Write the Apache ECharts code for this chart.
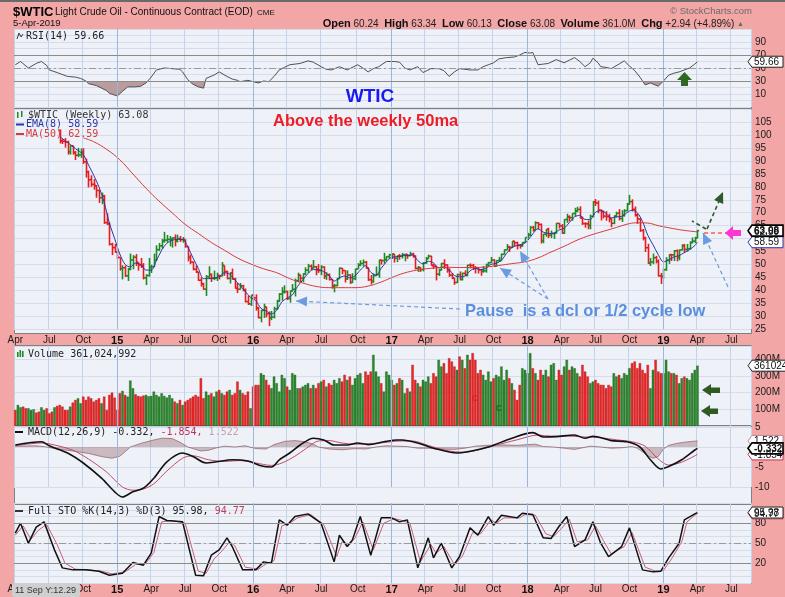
<!DOCTYPE html>
<html>
<head>
<meta charset="utf-8">
<title>$WTIC Light Crude Oil - Weekly</title>
<script src="https://cdn.jsdelivr.net/npm/echarts@6/dist/echarts.min.js"></script>
<style>
  html, body { margin: 0; padding: 0; background: #f2a6a6; }
  #chart { width: 785px; height: 597px; }
</style>
</head>
<body>
<div id="chart"></div>
<script>
// weekly categories start Fri 4-Apr-2014; price bars are shown from 1-Aug-2014
const firstWeek = "2014-04-04";
const weekCount = 282;
const firstBar = 17;

// weekly closes from 4-Apr-2014 (index 0) to 5-Apr-2019 (index 261)
const closes = [
  101.14,103.74,104.30,100.60,99.76,99.99,102.02,104.35,102.71,102.66,106.91,107.26,105.74,104.06,100.83,103.13,102.09,
  97.88,97.65,97.35,93.65,95.96,93.29,92.27,92.41,93.54,89.74,85.82,82.75,81.01,80.54,78.65,75.82,76.51,66.15,65.84,57.81,56.52,54.73,
  52.69,48.36,48.69,45.59,48.24,51.69,52.78,50.81,49.76,49.61,44.84,45.72,48.87,49.14,51.64,55.74,57.15,59.15,59.39,59.69,
  59.72,60.30,59.13,59.96,59.61,59.63,56.93,52.74,50.89,48.14,47.12,43.87,42.50,40.45,45.22,46.05,44.63,44.68,45.70,45.54,
  49.63,47.26,44.60,46.59,44.29,40.74,40.39,41.71,39.97,35.62,34.73,38.10,37.04,
  33.16,29.42,32.19,33.62,30.89,29.44,29.64,32.78,35.92,38.50,39.44,39.46,36.79,39.72,40.36,43.73,45.92,44.66,46.21,47.75,
  49.33,48.62,49.07,47.98,47.64,48.99,45.41,45.95,44.19,41.60,41.80,44.49,48.52,47.64,44.44,45.88,43.03,44.48,48.24,49.81,
  50.35,50.85,48.70,44.07,43.41,45.69,46.06,51.68,51.50,51.90,53.02,53.72,
  53.99,52.37,53.22,53.17,53.83,53.86,53.40,53.99,53.33,48.49,48.78,47.97,50.60,52.24,53.18,49.62,49.33,46.22,47.84,50.33,
  49.80,47.66,45.83,44.74,43.01,46.04,44.23,46.54,45.77,49.71,49.58,48.82,48.51,47.87,47.29,47.48,49.89,50.66,51.67,49.29,
  51.45,51.47,53.90,55.64,56.74,56.55,58.95,58.36,57.36,57.30,58.47,60.42,
  61.44,64.30,63.37,66.14,65.45,59.20,61.68,63.55,61.25,62.04,62.34,65.88,64.94,62.06,67.39,68.38,68.10,69.72,70.70,71.28,
  67.88,65.81,65.74,65.06,68.58,74.15,73.80,71.01,70.46,68.69,68.49,67.63,65.91,68.72,69.80,67.75,68.99,70.78,73.25,74.34,
  71.34,69.12,67.59,63.14,60.19,56.46,50.42,50.93,52.61,51.20,45.59,45.33,
  47.96,51.59,53.80,53.69,55.26,52.72,55.59,57.26,55.80,56.07,58.52,59.04,60.14,63.08
];

// opens / highs / lows from index 17
const opens = [
  101.9,97.9,97.6,97.3,93.6,95.9,93.3,92.3,92.4,93.5,89.7,85.8,82.8,81.0,80.5,78.6,75.8,76.5,66.2,65.8,57.8,56.5,
  54.7,52.7,48.4,48.7,45.6,48.2,51.7,52.8,50.8,49.8,49.6,44.8,45.7,48.9,49.1,51.6,55.7,57.2,59.2,59.4,
  59.7,59.7,60.3,59.1,60.0,59.6,59.6,56.9,52.7,50.9,48.1,47.1,43.9,42.5,40.4,45.2,46.1,44.6,44.7,45.7,
  45.5,49.6,47.3,44.6,46.6,44.3,40.7,40.4,41.7,40.0,35.6,34.7,38.1,
  37.0,33.2,29.4,32.2,33.6,30.9,29.4,29.6,32.8,35.9,38.5,39.4,39.5,36.8,39.7,40.4,43.7,45.9,44.7,46.2,
  47.8,49.3,48.6,49.1,48.0,47.6,49.0,45.4,46.0,44.2,41.6,41.8,44.5,48.5,47.6,44.4,45.9,43.0,44.5,48.2,
  49.8,50.4,50.9,48.7,44.1,43.4,45.7,46.1,51.7,51.5,51.9,53.0,
  53.7,54.0,52.4,53.2,53.2,53.8,53.9,53.4,54.0,53.3,48.5,48.8,48.0,50.6,52.2,53.2,49.6,49.3,46.2,47.8,
  50.3,49.8,47.7,45.8,44.7,43.0,46.0,44.2,46.5,45.8,49.7,49.6,48.8,48.5,47.9,47.3,47.5,49.9,50.7,51.7,
  49.3,51.5,51.5,53.9,55.6,56.7,56.6,59.0,58.4,57.4,57.3,58.5,
  60.4,61.4,64.3,63.4,66.1,65.5,59.2,61.7,63.6,61.3,62.0,62.3,65.9,64.9,62.1,67.4,68.4,68.1,69.7,70.7,
  71.3,67.9,65.8,65.7,65.1,68.6,74.2,73.8,71.0,70.5,68.7,68.5,67.6,65.9,68.7,69.8,67.8,69.0,70.8,73.3,
  74.3,71.3,69.1,67.6,63.1,60.2,56.5,50.4,50.9,52.6,51.2,45.6,
  45.3,48.0,51.6,53.8,53.7,55.3,52.7,55.6,57.3,55.8,56.1,58.5,59.0,60.24
];
const highs = [
  102.2,98.5,98.9,97.9,96.1,95.9,93.9,95.1,94.9,95.0,90.9,86.3,84.5,83.0,80.7,78.9,77.8,76.9,69.8,66.2,58.4,57.9,
  55.1,52.7,49.7,49.5,48.6,54.2,53.6,54.0,50.8,52.5,50.5,46.2,52.5,49.9,54.2,57.4,58.3,59.9,62.6,61.4,
  61.0,60.4,61.6,61.5,61.0,60.6,59.7,56.9,53.8,51.1,49.6,47.1,45.0,42.9,45.9,49.3,46.5,47.6,46.8,46.0,
  50.9,49.6,47.5,47.0,48.4,44.8,42.8,42.8,42.1,40.7,37.9,38.1,38.4,
  38.4,33.6,32.4,34.8,33.6,31.8,32.0,33.6,36.3,38.9,41.2,41.9,39.8,39.9,42.4,44.5,46.8,46.0,46.6,48.9,
  50.2,50.0,51.7,49.4,50.1,49.7,49.2,47.0,46.5,44.3,42.5,44.8,48.8,48.6,47.7,47.7,46.2,46.6,48.3,50.5,
  51.6,51.9,51.3,48.8,45.9,46.5,49.2,51.8,51.8,54.5,53.2,54.1,
  54.3,54.0,53.5,54.0,54.4,54.0,54.0,54.9,54.5,53.5,49.4,49.0,50.9,52.9,53.8,53.3,50.3,49.4,48.2,50.6,
  52.0,50.1,48.5,46.7,44.8,46.4,47.3,46.8,47.7,49.8,50.4,50.2,49.3,48.7,48.2,49.4,50.3,51.0,52.9,52.0,
  51.6,52.9,54.2,55.8,57.9,57.2,59.0,59.1,58.8,57.9,58.6,60.5,
  62.2,64.8,64.9,66.7,66.4,65.8,61.8,63.7,64.2,63.1,62.5,66.0,66.0,65.6,67.5,69.6,69.0,69.8,71.9,72.3,
  72.5,68.5,66.3,67.0,69.3,74.5,75.3,74.7,71.2,70.8,70.6,69.6,67.8,69.0,70.4,71.4,71.0,71.4,73.8,76.9,
  75.2,72.4,69.6,67.8,63.7,60.7,58.0,52.5,54.2,53.3,51.9,46.7,
  48.4,52.8,53.9,54.0,55.6,55.8,55.8,57.8,57.9,57.9,58.9,60.4,60.7,63.34
];
const lows = [
  96.8,96.6,95.2,92.5,92.5,92.5,90.4,91.5,91.2,88.9,83.6,79.8,80.0,78.9,75.8,73.8,73.3,65.7,65.2,57.3,53.6,54.5,
  52.0,47.6,44.2,45.2,43.6,47.7,48.1,49.4,47.6,48.6,44.2,42.0,45.3,46.7,49.1,51.3,55.2,56.1,58.4,58.5,
  57.0,56.5,57.0,58.5,58.7,58.4,56.5,51.2,50.1,47.7,46.7,43.6,41.4,40.2,37.8,44.3,43.2,43.9,43.6,44.2,
  45.5,45.6,44.2,42.6,44.1,40.6,38.9,40.3,39.6,35.3,34.3,33.9,36.1,
  32.1,29.1,27.6,29.3,29.5,26.1,28.4,29.1,32.5,35.4,36.0,38.7,36.2,35.2,39.5,37.6,43.1,43.0,43.1,46.0,
  46.7,47.8,48.4,45.8,46.7,45.8,44.4,44.0,43.8,40.6,39.2,41.5,44.4,46.2,43.0,44.0,42.5,42.8,43.9,48.2,
  49.3,49.2,48.3,43.6,42.2,42.9,45.6,44.8,49.9,50.3,51.3,52.1,
  52.1,50.7,50.9,51.8,52.3,51.2,52.2,53.2,52.6,48.1,47.1,47.1,47.3,50.2,52.1,49.5,48.2,43.8,45.5,47.7,
  48.2,46.8,45.2,44.3,42.1,42.8,43.8,43.8,45.4,45.4,48.4,47.8,46.5,46.5,45.6,46.8,46.8,49.4,50.6,49.3,
  49.1,51.0,51.5,53.8,55.6,54.8,56.4,56.8,55.8,56.1,56.8,58.4,
  60.1,61.0,62.7,63.2,63.6,58.1,58.2,60.7,60.2,60.2,59.9,61.9,63.9,61.8,61.8,66.1,66.6,66.9,68.6,70.2,
  67.8,65.3,64.2,63.6,63.6,68.3,72.6,69.8,67.0,67.8,66.9,66.3,64.4,65.6,68.2,67.0,66.4,68.5,70.7,73.1,
  70.5,68.5,65.7,62.6,59.3,54.8,50.2,49.4,50.1,50.4,45.3,42.4,
  44.4,47.5,50.2,51.3,51.3,51.2,51.6,55.4,54.5,55.0,55.8,58.1,58.2,60.13
];

// weekly volume, millions
const volumeM = [
  96,126,112,116,106,106,96,100,80,86, 112,96,106,76,86,112,120,126,116,96,
  96,116,140,156,166,136,176,156,176,166, 146,156,166,136,176,96,186,200,170,96,
  196,210,186,176,272,226,190,180,176,182, 186,178,180,206,186,176,196,180,170,186,
  166,146,136,156,126,146,156,166,176,186, 176,286,166,206,186,196,176,206,216,196,
  186,206,216,186,196,266,216,196,186,206, 106,236,246,246,316,306,276,246,226,296,
  256,206,306,286,236,216,316,306,226,226, 236,246,256,226,246,226,256,266,276,236,
  256,246,276,256,286,266,306,276,296,246, 286,306,316,256,326,306,326,426,326,296,
  256,206,326,306,276,246,256,286,276,196, 226,206,366,276,256,236,276,266,296,256,
  316,296,396,356,376,316,406,386,356,336, 416,396,346,426,396,436,396,316,336,306,
  276,326,266,286,306,296,356,276,336,286, 256,216,156,246,346,336,316,436,346,316,
  276,336,306,336,296,366,376,276,336,306, 356,396,336,356,346,316,296,366,326,296,
  256,266,276,256,246,246,226,246,236,316, 296,306,286,316,306,346,376,386,346,376,
  336,316,366,226,336,396,326,316,316,396, 326,316,316,306,256,286,296,286,276,316,336,361
];

// indicator readings as [week index, value]
const ema8 = [[17,99.5],[20,97.2],[23,94.8],[26,92.5],[28,88.5],[30,84.5],[32,80.0],[34,74.0],[36,66.0],[38,60.0],
  [40,54.0],[42,50.0],[44,49.0],[46,50.5],[48,50.0],[50,47.8],[52,47.8],[54,51.5],[56,55.5],[58,58.2],[60,59.4],
  [62,59.7],[64,59.7],[66,56.8],[68,52.5],[70,48.5],[72,44.5],[74,44.5],[76,44.8],[78,45.2],[80,46.8],[82,46.2],
  [84,44.0],[86,41.8],[88,39.5],[90,37.2],[92,36.0],[94,33.0],[96,32.0],[98,30.8],[100,32.2],[102,35.5],[104,37.0],
  [106,38.2],[108,41.5],[110,44.0],[112,46.5],[114,48.0],[116,48.0],[118,47.2],[120,45.8],[122,43.5],[124,44.8],
  [126,45.5],[128,44.8],[130,45.6],[132,47.8],[134,49.5],[136,47.0],[138,45.8],[140,48.5],[142,51.0],[144,52.8],
  [146,53.0],[148,53.3],[150,53.5],[152,53.6],[154,51.5],[156,50.2],[158,51.2],[160,50.6],[162,48.6],[164,49.0],
  [166,48.0],[168,45.7],[170,45.2],[172,45.5],[174,47.5],[176,48.5],[178,48.0],[180,48.4],[182,50.0],[184,50.4],
  [186,51.6],[188,54.3],[190,56.5],[192,57.4],[194,57.7],[196,59.2],[198,61.8],[200,63.8],[202,62.5],[204,62.0],
  [206,61.9],[208,63.3],[210,64.0],[212,66.2],[214,68.4],[216,69.0],[218,67.4],[220,67.4],[222,70.2],[224,70.8],
  [226,69.8],[228,68.0],[230,68.4],[232,68.6],[234,70.0],[236,71.0],[238,70.0],[240,66.6],[242,61.3],[244,57.6],
  [246,53.8],[248,51.0],[250,51.7],[252,52.9],[254,53.4],[256,54.6],[258,55.7],[260,57.3],[261,58.59]];
const ma50 = [[26,99.0],[30,97.5],[35,94.5],[40,90.5],[45,85.0],[50,79.5],[55,74.5],[60,70.0],[65,65.5],[70,62.0],
  [75,58.5],[80,55.5],[85,52.5],[90,50.2],[95,48.3],[100,46.8],[105,44.5],[110,42.8],[115,41.5],[120,41.0],[125,41.0],
  [130,41.0],[135,41.6],[140,43.2],[145,45.3],[150,47.0],[155,48.0],[160,48.6],[165,48.9],[170,48.8],[175,48.8],
  [180,49.0],[185,49.6],[190,50.3],[195,51.0],[200,52.5],[205,54.8],[210,57.0],[215,59.4],[220,61.3],[225,62.8],
  [230,64.3],[235,65.8],[238,66.1],[242,66.0],[246,65.0],[250,64.2],[255,63.3],[261,62.59]];
const rsi14 = [[0,55],[2,60],[5,50],[8,57],[10,60],[12,54],[13,47],[16,43],[20,37],[23,36],[25,34],[27,30],[28,26],
  [31,23],[33,19],[35,15],[36,11],[39,7],[41,14],[43,21],[46,21],[48,22],[50,27],[52,36],[54,47],[57,50],[60,49],
  [63,48],[64,44],[66,32],[68,25],[70,21],[72,19],[73,34],[76,39],[78,44],[81,37],[83,33],[85,31],[86,29],[89,31],
  [91,29],[93,27],[95,30],[97,29],[99,37],[101,47],[103,51],[105,55],[109,57],[112,61],[114,59],[117,52],[119,48],
  [121,47],[124,52],[127,47],[131,55],[133,50],[135,44],[137,49],[139,52],[142,60],[145,60],[147,59],[149,50],
  [151,47],[154,52],[156,43],[159,49],[162,49],[164,46],[166,37],[168,44],[170,49],[174,47],[177,47],[179,52],
  [181,55],[183,58],[185,64],[188,66],[191,67],[193,70],[195,74],[197,73],[198,74],[200,55],[202,56],[204,57],
  [207,63],[210,58],[212,62],[214,66],[216,60],[218,52],[220,58],[221,65],[223,58],[224,52],[226,51],[228,49],
  [231,56],[233,61],[235,53],[237,46],[239,36],[241,24],[243,27],[246,22],[248,30],[250,39],[252,42],[254,44],
  [256,47],[258,50],[260,56],[261,59.66]];
const macdLine = [[0,0.5],[10,1.3],[13,0.3],[20,-1.5],[26,-4],[33,-7.8],[38,-11.2],[41,-12.5],[45,-11.2],[49,-10.3],
  [53,-7.8],[58,-3.7],[64,-1.5],[68,-2.4],[73,-4],[77,-3.7],[83,-3.2],[89,-3.5],[94,-4.7],[98,-5],[101,-3.2],
  [105,-1.5],[109,0.5],[114,2.2],[118,1.75],[122,0.5],[127,0.5],[131,1.0],[135,0.6],[141,1.3],[146,1.75],[148,1.75],
  [154,1.0],[160,-0.3],[169,-1.5],[173,-1.2],[181,0],[190,2.2],[198,3.6],[202,2.5],[207,2.6],[214,3.0],[218,2.2],
  [221,2.7],[228,1.6],[234,1.3],[239,0],[243,-3.2],[247,-5.5],[250,-4.9],[255,-3.2],[260,-0.75],[261,-0.332]];
const macdSignal = [[0,0.3],[10,1.0],[15,0.5],[22,-0.8],[28,-3],[35,-6.3],[41,-10],[45,-10.8],[49,-10.5],[53,-9.2],
  [58,-6],[64,-2.8],[68,-2.2],[74,-3.2],[80,-3.6],[86,-3.4],[92,-4.0],[98,-4.6],[102,-4.0],[107,-2.3],[111,-0.5],
  [116,1.5],[120,1.6],[125,1.0],[130,0.7],[135,0.8],[141,1.1],[147,1.5],[152,1.5],[158,0.4],[165,-0.9],[172,-1.3],
  [178,-0.6],[183,0.3],[192,1.8],[200,3.0],[205,2.7],[212,2.7],[218,2.5],[224,2.3],[230,1.8],[236,1.3],[241,0.2],
  [246,-3.0],[250,-4.5],[255,-3.8],[261,-1.854]];
const macdHist = [[0,0.2],[8,0.3],[12,0],[16,-0.5],[22,-1.0],[28,-1.6],[33,-2.4],[37,-2.8],[40,-2.3],[42,-1.2],[44,0],
  [48,0.9],[52,1.6],[56,2.2],[60,2.1],[63,1.2],[66,0],[68,-0.4],[71,-1.0],[74,-0.8],[77,-0.2],[80,0.2],[84,0],[88,0.3],
  [92,-0.4],[96,-0.5],[99,0.6],[103,1.4],[107,1.6],[111,1.3],[114,0.7],[116,0],[120,-0.5],[125,-0.7],[130,-0.4],
  [134,-0.5],[138,0],[142,0.3],[146,0.2],[150,0.1],[154,-0.3],[158,-0.3],[163,-0.5],[168,-0.6],[172,-0.3],[176,0.2],
  [180,0.4],[184,0.5],[188,0.5],[192,0.4],[196,0.6],[199,0.7],[202,0.1],[206,0],[210,-0.3],[214,-0.6],[217,-0.2],
  [220,0.2],[224,0],[228,-0.3],[232,-0.2],[236,0.1],[238,-0.3],[240,-1.2],[242,-2.2],[244,-2.8],[246,-2.4],[248,-0.5],
  [250,0.4],[253,0.9],[256,1.2],[259,1.4],[261,1.522]];
const stoK = [[0,65],[2,80],[5,50],[8,74],[11,82],[15,40],[18,13],[22,10],[27,10],[32,8],[36,2],[41,5],[45,21],[49,17],
  [52,35],[55,90],[58,84],[64,82],[69,2],[72,1],[75,32],[78,40],[81,58],[83,45],[87,10],[92,10],[95,22],[98,20],
  [101,85],[104,77],[107,90],[112,94],[117,80],[122,22],[124,62],[127,45],[129,55],[132,90],[136,32],[140,88],
  [144,88],[147,82],[150,85],[154,13],[158,58],[160,28],[163,50],[167,13],[170,30],[174,73],[177,62],[181,90],
  [183,77],[186,92],[192,88],[194,95],[198,93],[202,58],[205,57],[208,75],[211,90],[214,45],[218,55],[221,82],
  [224,50],[227,30],[232,45],[235,73],[240,10],[244,7],[247,8],[250,28],[254,50],[256,85],[260,94],[261,95.98]];
const stoD = [[0,62],[3,76],[6,56],[9,70],[12,78],[16,48],[19,20],[23,11],[28,10],[33,8],[37,4],[42,7],[46,18],[50,20],
  [53,36],[56,82],[60,84],[65,80],[70,8],[73,5],[76,26],[79,38],[82,52],[84,46],[88,14],[93,11],[96,19],[99,24],
  [102,76],[105,80],[108,88],[113,93],[118,78],[123,30],[125,52],[128,48],[130,58],[133,82],[137,40],[141,80],
  [145,87],[148,84],[151,80],[155,22],[159,48],[161,35],[164,45],[168,18],[171,30],[175,66],[178,64],[182,85],
  [184,80],[187,88],[193,88],[195,93],[199,92],[203,64],[206,60],[209,72],[212,86],[215,52],[219,55],[222,76],
  [225,54],[228,34],[233,45],[236,66],[241,14],[245,8],[248,9],[251,26],[255,52],[257,82],[260,92],[261,94.77]];

// tick labels
const monthLabels = { 3: "Apr", 6: "Jul", 9: "Oct" };
const rsiTicks = [10, 30, 50, 70, 90];
const priceTicks = [25, 30, 35, 40, 45, 50, 55, 60, 65, 70, 75, 80, 85, 90, 95, 100, 105];
const volTicks = [100, 200, 300, 400];
const macdTicks = [5, -5, -10];
const stoTicks = [20, 50, 80];

const FONT = '"Liberation Sans", Arial, sans-serif';
const MONO = '"DejaVu Sans Mono", monospace';
const UP = "#1f8a22", DOWN = "#e81c1c";

const weeks = [];
const t0 = Date.parse(firstWeek + "T00:00:00Z");
for (let i = 0; i < weekCount; i++) {
  weeks.push(new Date(t0 + i * 7 * 86400000).toISOString().slice(0, 10));
}
const monthOf = (v) => +v.slice(5, 7) - 1;
const quarterStart = (v) => monthOf(v) % 3 === 0 && +v.slice(8, 10) <= 7;
const yearStarts = weeks.filter((v) => quarterStart(v) && monthOf(v) === 0);

const barData = opens.map((o, k) => {
  const i = firstBar + k;
  return [i, o, highs[k], lows[k], closes[i], closes[i] > closes[i - 1] ? 1 : 0];
});
const volData = volumeM.map((v, i) => {
  const up = i > 0 && closes[i] > closes[i - 1];
  return { value: v, itemStyle: { color: up ? "#2b8a2b" : "#ee2626", borderColor: up ? "#1c5e1c" : "#a81616", borderWidth: 0.4 } };
});

function xAxisFor(gridIndex, labelMargin) {
  return {
    type: "category", gridIndex, data: weeks, boundaryGap: true,
    axisLine: { show: false }, axisTick: { show: false },
    axisLabel: labelMargin == null ? { show: false } : {
      show: true, margin: labelMargin, color: "#1a1a1a", fontSize: 10, fontFamily: FONT,
      interval: (i, v) => quarterStart(v),
      formatter: (v) => monthOf(v) === 0 ? "{yr|" + v.slice(2, 4) + "}" : monthLabels[monthOf(v)],
      rich: { yr: { fontWeight: "bold", fontSize: 11, color: "#111", fontFamily: FONT } }
    },
    splitLine: {
      show: true,
      interval: (i, v) => quarterStart(v) && monthOf(v) !== 0,
      lineStyle: { color: "#c3d3ea", width: 1 }
    }
  };
}

function yAxisFor(gridIndex, min, max, interval, shown, fmt) {
  return {
    type: "value", gridIndex, position: "right", min, max, interval,
    axisLine: { show: false }, axisTick: { show: false },
    axisLabel: {
      show: true, margin: 4, color: "#1a1a1a", fontSize: 10, fontFamily: FONT, align: "left",
      formatter: (v) => shown.includes(Math.round(v)) ? (fmt ? fmt(Math.round(v)) : String(Math.round(v))) : ""
    },
    splitLine: { show: true, lineStyle: { color: "#d5ddeb", width: 1 } }
  };
}

const yearLines = yearStarts.map((v) => ({ xAxis: v }));
const yearMark = (extra) => ({
  silent: true, symbol: "none", label: { show: false }, animation: false,
  lineStyle: { color: "#9bb6da", type: "solid", width: 1 },
  data: yearLines.concat(extra || [])
});
const level = (v, dashed) => ({
  yAxis: v,
  lineStyle: dashed ? { color: "#9a9a9a", type: [7, 3, 2, 3], width: 1 } : { color: "#8c8c8c", type: "solid", width: 1 }
});

function drawOHLC(params, api) {
  const i = api.value(0);
  const x = Math.round(api.coord([i, 0])[0]) + 0.5;
  const yo = api.coord([i, api.value(1)])[1];
  const yh = api.coord([i, api.value(2)])[1];
  const yl = api.coord([i, api.value(3)])[1];
  const yc = api.coord([i, api.value(4)])[1];
  const style = { stroke: api.value(5) > 0 ? UP : DOWN, lineWidth: 1.6 };
  return {
    type: "group",
    children: [
      { type: "line", shape: { x1: x, y1: yh, x2: x, y2: yl }, style },
      { type: "line", shape: { x1: x - 1.6, y1: yo, x2: x, y2: yo }, style },
      { type: "line", shape: { x1: x, y1: yc, x2: x + 1.6, y2: yc }, style }
    ]
  };
}

const chart = echarts.init(document.getElementById("chart"));
const L = 14, R = 34;

chart.setOption({
  animation: false,
  backgroundColor: "#f2a6a6",
  grid: [
    { left: L, right: R, top: 29, height: 78 },
    { left: L, right: R, top: 109.4, height: 219.6 },
    { left: L, right: R, top: 345.8, height: 80.2 },
    { left: L, right: R, top: 427, height: 60 },
    { left: L, right: R, top: 503.2, height: 80 }
  ],
  xAxis: [xAxisFor(0), xAxisFor(1, 6), xAxisFor(2), xAxisFor(3), xAxisFor(4, 1)],
  yAxis: [
    yAxisFor(0, -10, 110, 10, rsiTicks),
    yAxisFor(1, 25, 110, 5, priceTicks),
    yAxisFor(2, 0, 480, 100, volTicks, (v) => v + "M"),
    yAxisFor(3, -10, 5, 5, macdTicks),
    yAxisFor(4, -10, 110, 10, stoTicks)
  ],
  visualMap: [{
    type: "piecewise", show: false, seriesIndex: 1, dimension: 1,
    pieces: [{ min: -20, max: 30, color: "#bb9c9c" }, { min: 30, max: 120, color: "rgba(187,156,156,0)" }],
    outOfRange: { color: "rgba(187,156,156,0)" }
  }],
  series: [
    { type: "line", name: "RSI", xAxisIndex: 0, yAxisIndex: 0, data: rsi14, showSymbol: false, z: 4,
      lineStyle: { color: "#505050", width: 1 },
      markLine: yearMark([level(70), level(30), level(50, true)]) },
    { type: "line", name: "RSI fill", xAxisIndex: 0, yAxisIndex: 0, data: rsi14, showSymbol: false, z: 3,
      lineStyle: { width: 0, opacity: 0 }, areaStyle: { origin: 30, opacity: 1 } },
    { type: "custom", name: "$WTIC", xAxisIndex: 1, yAxisIndex: 1, data: barData,
      encode: { x: 0, y: [1, 2, 3, 4] }, renderItem: drawOHLC, z: 3 },
    { type: "line", name: "EMA(8)", xAxisIndex: 1, yAxisIndex: 1, data: ema8, showSymbol: false, smooth: 0.3, z: 4,
      lineStyle: { color: "#2a36a8", width: 1 }, markLine: yearMark() },
    { type: "line", name: "MA(50)", xAxisIndex: 1, yAxisIndex: 1, data: ma50, showSymbol: false, smooth: 0.4, z: 4,
      lineStyle: { color: "#d83a3a", width: 1 } },
    { type: "bar", name: "Volume", xAxisIndex: 2, yAxisIndex: 2, data: volData, barWidth: 2.4,
      markLine: yearMark() },
    { type: "line", name: "Hist", xAxisIndex: 3, yAxisIndex: 3, data: macdHist, showSymbol: false, clip: false,
      lineStyle: { color: "#8e5a60", width: 0.7 }, areaStyle: { color: "rgba(140,82,92,0.5)", origin: 0 },
      markLine: yearMark() },
    { type: "line", name: "Signal", xAxisIndex: 3, yAxisIndex: 3, data: macdSignal, showSymbol: false, smooth: 0.3,
      clip: false, lineStyle: { color: "#c24a6a", width: 1 } },
    { type: "line", name: "MACD", xAxisIndex: 3, yAxisIndex: 3, data: macdLine, showSymbol: false, smooth: 0.3,
      clip: false, lineStyle: { color: "#111", width: 1.6 } },
    { type: "line", name: "%D", xAxisIndex: 4, yAxisIndex: 4, data: stoD, showSymbol: false, clip: false,
      lineStyle: { color: "#c8607a", width: 1 },
      markLine: yearMark([level(80), level(20), level(50, true)]) },
    { type: "line", name: "%K", xAxisIndex: 4, yAxisIndex: 4, data: stoK, showSymbol: false, clip: false,
      lineStyle: { color: "#111", width: 1.5 } }
  ]
});

// ---- overlay: panels, header, legends, tags, notes ----
const py = (axis, v) => chart.convertToPixel({ yAxisIndex: axis }, v);
const g = [];
function panel(y, h) {
  g.push({ type: "rect", z: -1, shape: { x: 14.5, y: y + 0.5, width: 737, height: h },
    style: { fill: "#eef1f8", stroke: "#808080", lineWidth: 1 } });
}
function text(x, y, str, font, fill, align, z) {
  g.push({ type: "text", z: z || 12, x, y,
    style: { text: str, font, fill, align: align || "left", verticalAlign: "middle" } });
}
function tag(y, label, border, bold, w) {
  const x = 752, hh = 5.5;
  w = w || 31;
  g.push({ type: "polygon", z: 20, shape: { points: [[x - 4, y], [x, y - hh], [x + w, y - hh], [x + w, y + hh], [x, y + hh]] },
    style: { fill: "#fff", stroke: border, lineWidth: bold ? 1.6 : 1 } });
  g.push({ type: "text", z: 21, x: x + 2, y: y + 0.5,
    style: { text: label, font: (bold ? "bold " : "") + "10px " + FONT, fill: "#111", verticalAlign: "middle" } });
}
function arrow(x1, y1, x2, y2, color, head, width) {
  g.push({ type: "line", z: 15, shape: { x1, y1, x2, y2 },
    style: { stroke: color, lineWidth: width || 1.2, lineDash: [4, 3] } });
  if (head) {
    const a = Math.atan2(y2 - y1, x2 - x1), len = 11, half = 5;
    const bx = x2 - len * Math.cos(a), by = y2 - len * Math.sin(a);
    g.push({ type: "polygon", z: 16, shape: { points: [[x2, y2],
      [bx + half * Math.sin(a), by - half * Math.cos(a)], [bx - half * Math.sin(a), by + half * Math.cos(a)]] },
      style: { fill: color } });
  }
}
function poly(points, fill) {
  g.push({ type: "polygon", z: 17, shape: { points }, style: { fill } });
}

panel(29, 79); panel(108, 225); panel(345, 80); panel(425, 79); panel(504, 79);
g.push({ type: "rect", z: 1, shape: { x: 0, y: 0, width: 785, height: 2 }, style: { fill: "#6a6a6a" } });

// header
text(13, 12, "$WTIC", "bold 13px " + FONT, "#000");
text(55, 12, "Light Crude Oil - Continuous Contract (EOD)", "10px " + FONT, "#111");
text(257, 12.5, "CME", "8px " + FONT, "#111");
text(13, 23.5, "5-Apr-2019", "9.5px " + FONT, "#111");
text(752, 11, "\u00a9 StockCharts.com", "9.5px " + FONT, "#6a6a6a", "right");
g.push({ type: "text", z: 12, x: 744, y: 24,
  style: {
    text: "{b|Open} 60.24  {b|High} 63.34  {b|Low} 60.13  {b|Close} 63.08  {b|Volume} 361.0M  {b|Chg} +2.94 (+4.89%) {t|\u25b2}",
    font: "10px " + FONT, fill: "#222", align: "right", verticalAlign: "middle",
    rich: { b: { font: "bold 11px " + FONT, fill: "#111" }, t: { font: "7px " + FONT, fill: "#4b7b4b" } }
  } });

// legends
g.push({ type: "polyline", z: 12, shape: { points: [[17, 39], [19, 33], [21, 37], [23, 34]] }, style: { stroke: "#333", lineWidth: 1 } });
text(26, 36, "RSI(14) 59.66", "10px " + MONO, "#222");
g.push({ type: "rect", z: 12, shape: { x: 17, y: 112, width: 1.5, height: 6 }, style: { fill: UP } });
g.push({ type: "rect", z: 12, shape: { x: 21, y: 111, width: 1.5, height: 6 }, style: { fill: UP } });
text(28, 115, "$WTIC (Weekly) 63.08", "10px " + MONO, "#333");
g.push({ type: "line", z: 12, shape: { x1: 16, y1: 124.5, x2: 24, y2: 124.5 }, style: { stroke: "#2a36a8", lineWidth: 2 } });
text(26, 124.5, "EMA(8) 58.59", "10px " + MONO, "#2a36a8");
g.push({ type: "line", z: 12, shape: { x1: 16, y1: 134, x2: 24, y2: 134 }, style: { stroke: "#d83a3a", lineWidth: 2 } });
text(26, 134, "MA(50) 62.59", "10px " + MONO, "#d83a3a");
[[17, 352], [19.5, 350], [22, 351]].forEach(([x, y]) =>
  g.push({ type: "rect", z: 12, shape: { x, y, width: 1.6, height: 357 - y }, style: { fill: UP } }));
text(28, 354, "Volume 361,024,992", "10px " + MONO, "#222");
g.push({ type: "line", z: 12, shape: { x1: 15, y1: 432, x2: 23, y2: 432 }, style: { stroke: "#111", lineWidth: 2 } });
g.push({ type: "text", z: 12, x: 28, y: 432,
  style: { text: "MACD(12,26,9) -0.332, {r|-1.854,} {p|1.522}", font: "10px " + MONO, fill: "#222", verticalAlign: "middle",
    rich: { r: { fill: "#c2305a", font: "10px " + MONO }, p: { fill: "#c8a0aa", font: "10px " + MONO } } } });
g.push({ type: "line", z: 12, shape: { x1: 15, y1: 511, x2: 23, y2: 511 }, style: { stroke: "#333", lineWidth: 2 } });
g.push({ type: "text", z: 12, x: 28, y: 511,
  style: { text: "Full STO %K(14,3) %D(3) 95.98, {r|94.77}", font: "10px " + MONO, fill: "#222", verticalAlign: "middle",
    rich: { r: { fill: "#b8405e", font: "10px " + MONO } } } });

// value tags on the right scale
tag(py(0, 59.66), "59.66", "#222");
tag(py(1, 62.59), "62.59", "#d83a3a");
tag(py(1, 58.59), "58.59", "#2a36a8");
tag(py(1, 63.08), "63.08", "#000", true);
tag(py(2, 361.024992), "361024992", "#222", false, 40);
tag(py(3, 1.522), "1.522", "#b88a96");
tag(py(3, -1.854), "-1.854", "#c2305a");
tag(py(3, -0.332), "-0.332", "#000", true);
tag(py(4, 94.77), "94.77", "#b8405e");
tag(py(4, 95.98), "95.98", "#222");

// annotations
text(370, 97, "WTIC", "bold 19px " + FONT, "#1b1bef", "center");
text(273, 121, "Above the weekly 50ma", "bold 16.5px " + FONT, "#ee1c24");
text(465, 311, "Pause  is a dcl or 1/2 cycle low", "bold 16.5px " + FONT, "#5a8fe0");
const blue = "#6c9be0";
arrow(460, 309, 296, 301, blue, true);
arrow(548, 299, 500, 268, blue, true);
arrow(548, 299, 520, 251, blue, true);
arrow(728, 287, 703, 233, blue, true);
arrow(704, 233, 727, 233, "#ff5a5a", false, 1.4);
arrow(706, 229, 692, 221, "#2e5a2a", false, 1.6);
arrow(707, 229, 723, 192, "#2e5a2a", true, 1.6);
poly([[725, 233], [733, 226], [733, 230], [741, 230], [741, 236], [733, 236], [733, 240]], "#ff36d2");
poly([[702, 390], [711, 384], [711, 387.5], [720, 387.5], [720, 393], [711, 393], [711, 396]], "#2f5a24");
poly([[701, 411], [710, 405], [710, 408.5], [718, 408.5], [718, 414], [710, 414], [710, 417]], "#2f5a24");
poly([[684.5, 72], [692, 80], [688, 80], [688, 86], [681, 86], [681, 80], [677, 80]], "#2f6a24");
text(475, 399, "C", "bold 9px " + FONT, "#e02020", "center");
text(499, 409, "C", "bold 9px " + FONT, "#1f6a1f", "center");

// cursor readout box
g.push({ type: "rect", z: 22, shape: { x: 12, y: 583, width: 68, height: 14, r: 2 }, style: { fill: "#cfcfcf" } });
text(15, 590.5, "11 Sep Y:12.29", "9px " + FONT, "#333", "left", 23);

chart.setOption({ graphic: { elements: g } });
</script>
</body>
</html>
